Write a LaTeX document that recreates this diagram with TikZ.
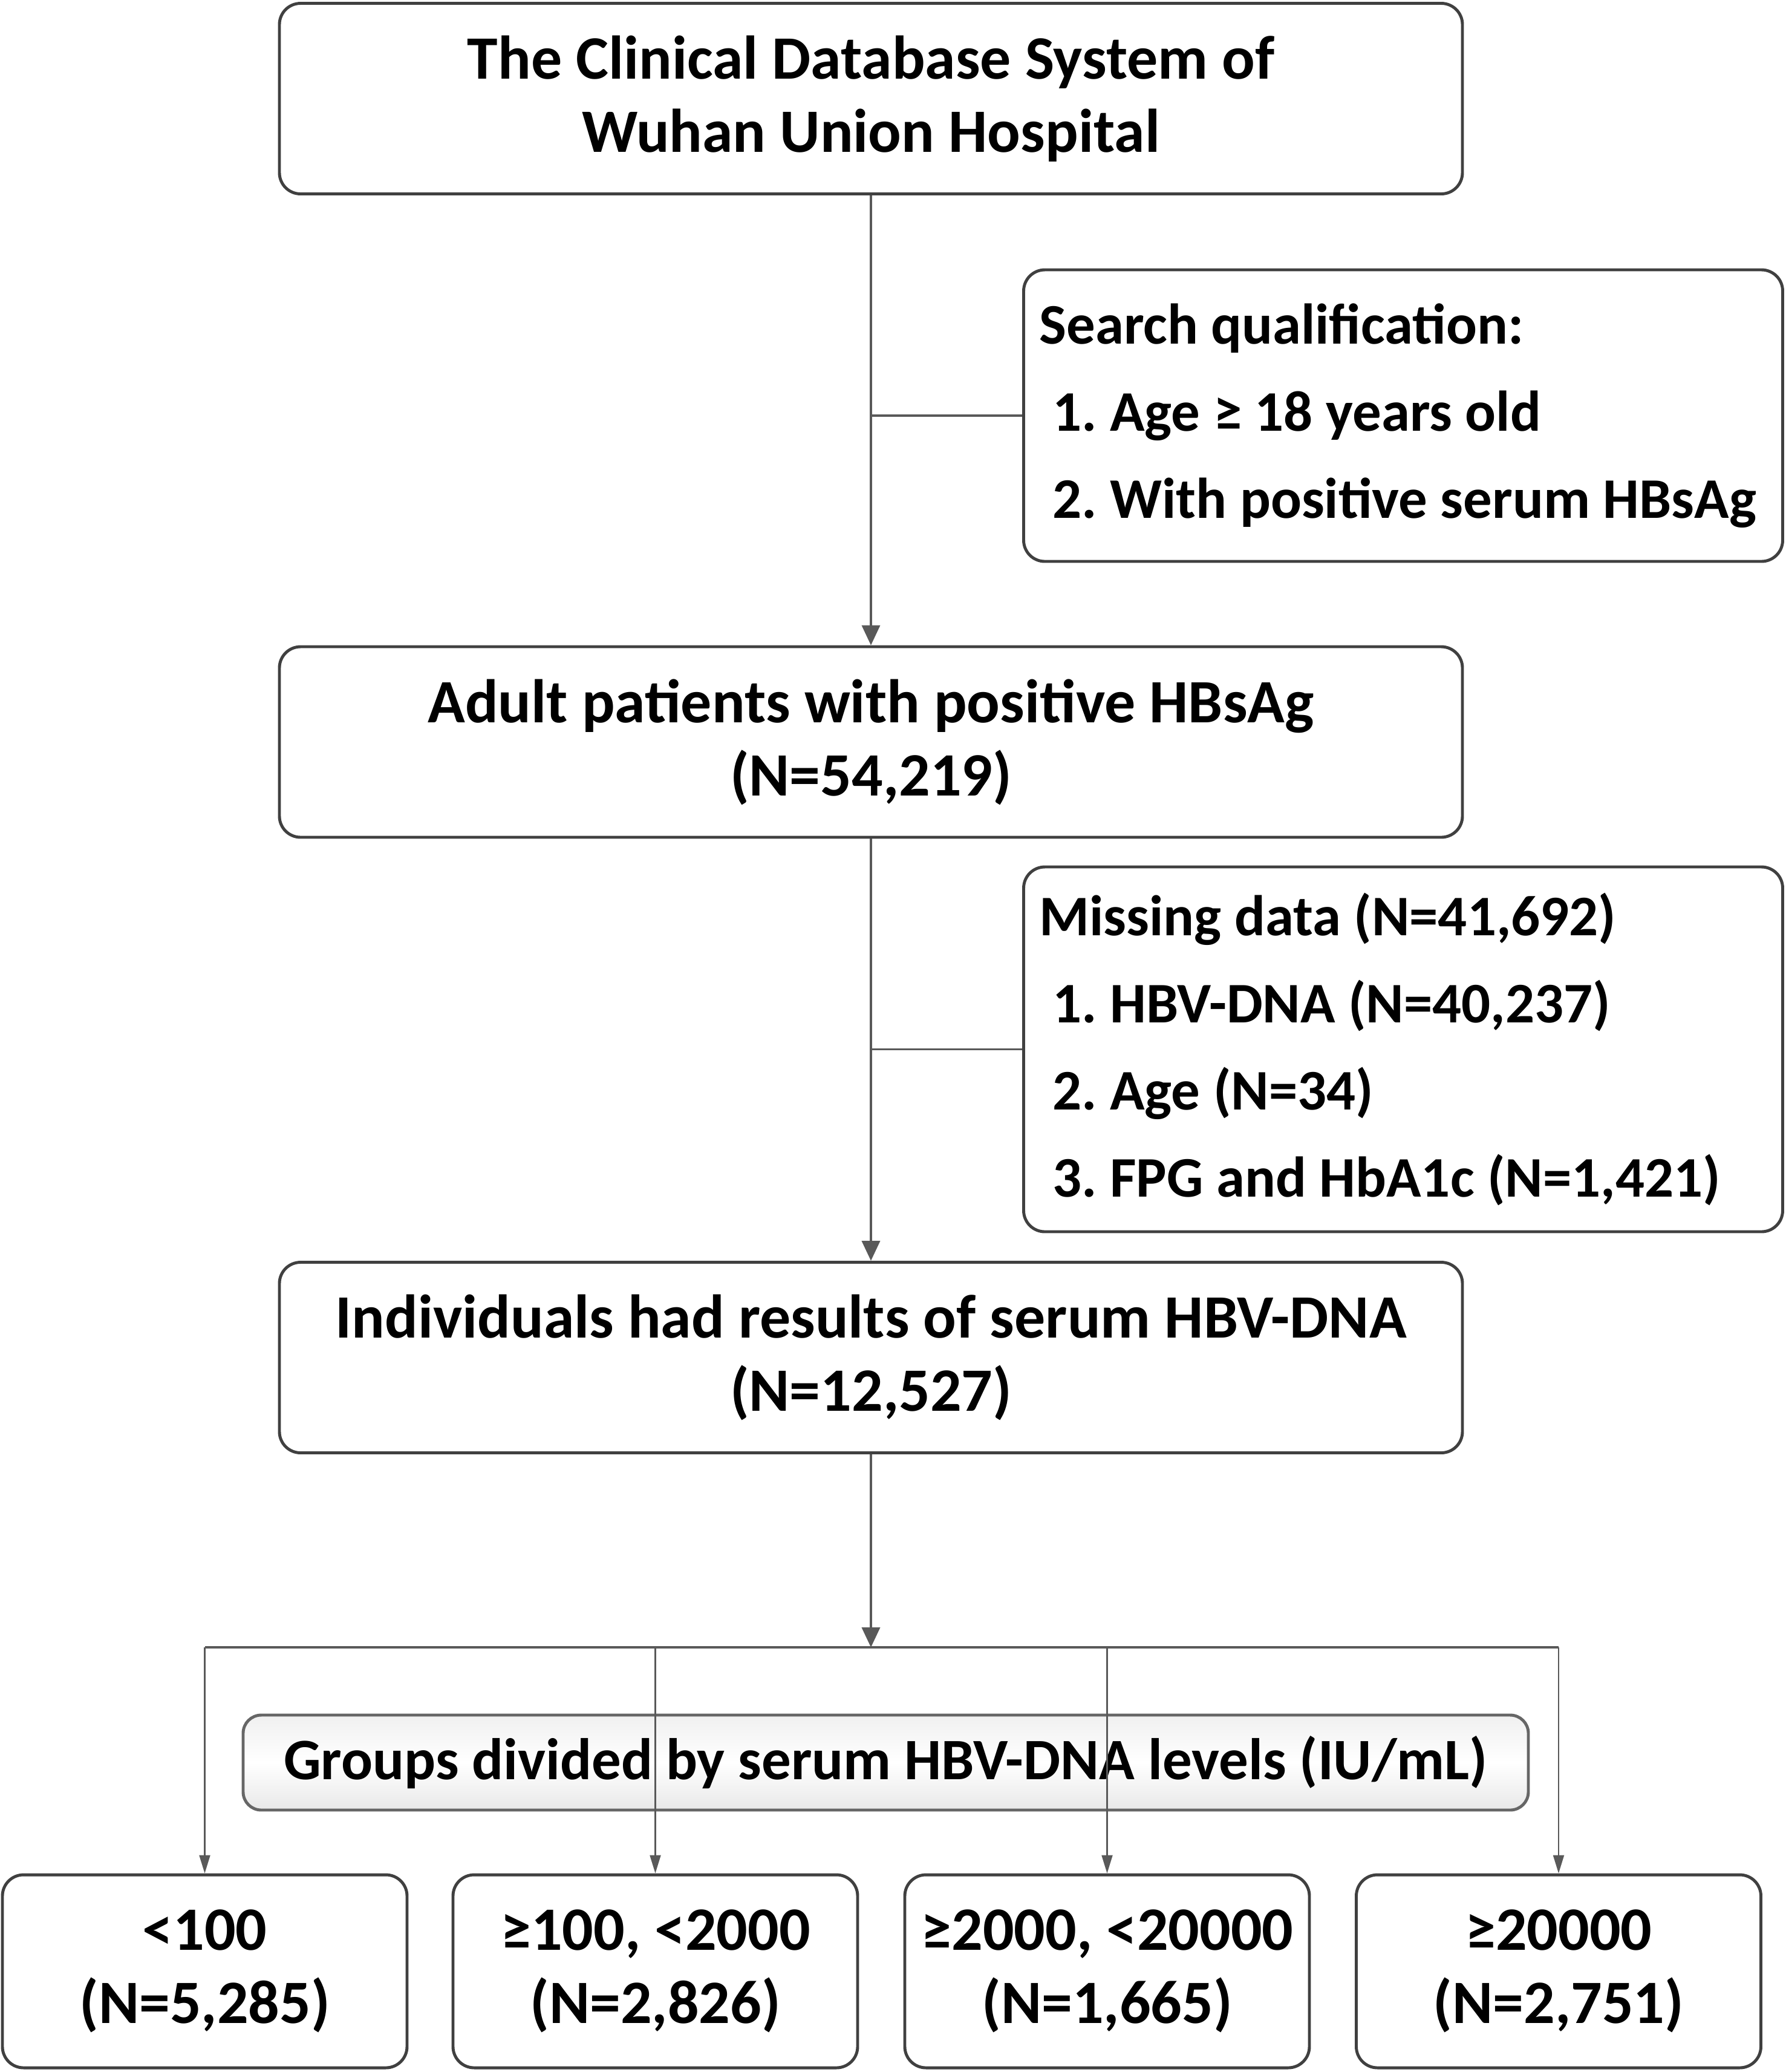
\documentclass[tikz,border=0pt]{standalone}
\usepackage{fontspec}
\setmainfont{Carlito}
\frenchspacing
\usetikzlibrary{arrows.meta,positioning}
\begin{document}
\begin{tikzpicture}[x=1cm,y=1cm,
  box/.style={draw=black!75,line width=1.4pt,rounded corners=0.35cm,fill=white,align=center,inner sep=0pt,
    font=\fontsize{29}{34.5}\selectfont\bfseries},
  wide/.style={box,minimum width=19.56cm,minimum height=3.15cm},
  side/.style={box,text width=12.35cm,inner xsep=0.1cm,minimum height=#1,align=flush left,
    font=\fontsize{27}{34.5}\selectfont\bfseries},
  grp/.style={box,minimum width=6.69cm,minimum height=3.19cm},
  conn/.style={draw=black!65,line width=1.1pt},
  arr/.style={conn,-{Triangle[length=0.33cm,width=0.3cm]}},
  drop/.style={draw=black!65,line width=0.6pt,-{Triangle[length=0.3cm,width=0.18cm]}}]
\useasboundingbox (0,0) rectangle (29.53,-34.25);
\node[wide] (db) at (14.40,-1.63) {The Clinical Database System of\\Wuhan Union Hospital};
\node[side=4.82cm] (qual) at (23.20,-6.87) {\hspace*{0.16cm}Search qualification:\\[6.5pt]
  \hspace*{0.38cm}1. Age ≥ 18 years old\\[6.5pt]
  \hspace*{0.38cm}2. With positive serum HBsAg\\[-16pt]};
\node[wide] (adult) at (14.40,-12.265) {Adult patients with positive HBsAg\\(N=54,219)};
\node[side=6.03cm] (miss) at (23.20,-17.345) {\hspace*{0.16cm}Missing data (N=41,692)\\[6.5pt]
  \hspace*{0.38cm}1. HBV-DNA (N=40,237)\\[6.5pt]
  \hspace*{0.38cm}2. Age (N=34)\\[6.5pt]
  \hspace*{0.38cm}3. FPG and HbA1c (N=1,421)\\[-16pt]};
\node[wide] (indiv) at (14.40,-22.44) {Individuals had results of serum HBV-DNA\\(N=12,527)};
\coordinate (bus) at (14.40,-27.23);
\node[box,minimum width=21.25cm,minimum height=1.57cm,rounded corners=0.3cm,draw=black!60,
  font=\fontsize{27.6}{34.5}\selectfont\bfseries,
  top color=black!6,bottom color=black!9,middle color=white] (lev) at (14.645,-29.135)
  {Groups divided by serum HBV-DNA levels (IU/mL)};
\foreach \n/\x/\t/\c in {1/3.385/{<100}/{5,285},2/10.835/{≥100, <2000}/{2,826},
  3/18.305/{≥2000, <20000}/{1,665},4/25.77/{≥20000}/{2,751}}
  \node[grp] (g\n) at (\x,-32.585) {\t\\(N=\c)};
\draw[arr] (db) -- (adult);
\draw[conn] (qual.west) -- (qual.west -| db.south);
\draw[arr] (adult) -- (indiv);
\draw[conn] (miss.west) -- (miss.west -| adult.south);
\draw[arr] (indiv) -- (bus);
\draw[conn] (g1.north |- bus) -- (g4.north |- bus);
\foreach \n in {1,...,4}
  \draw[drop] (g\n.north |- bus) -- (g\n.north);
\end{tikzpicture}
\end{document}
